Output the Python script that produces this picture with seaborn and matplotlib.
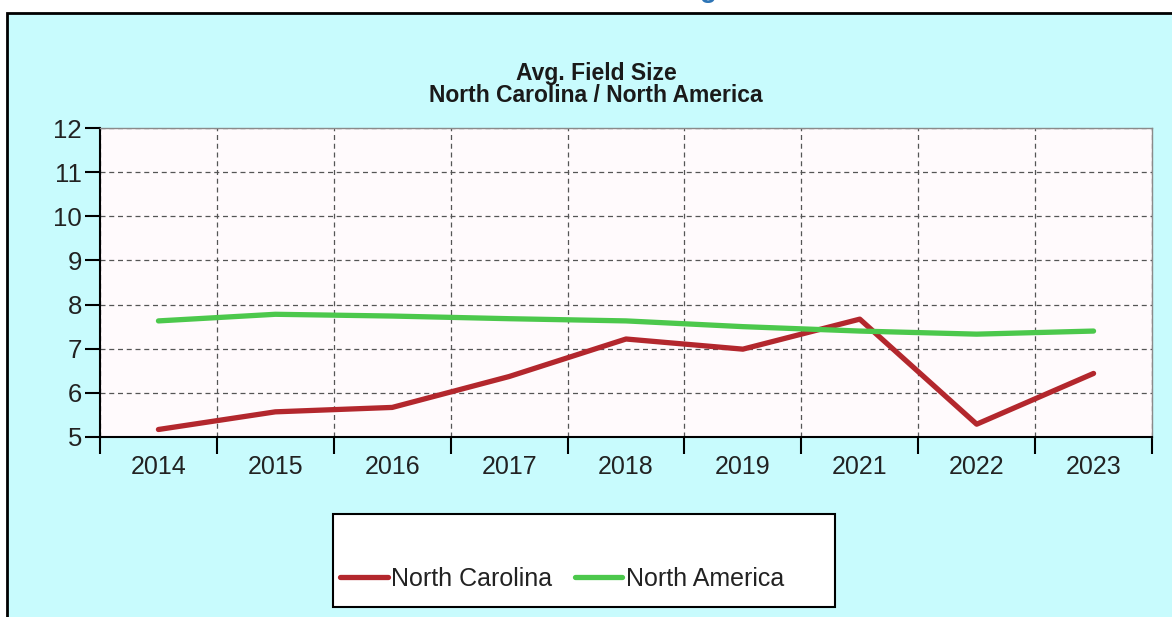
import matplotlib
matplotlib.use("Agg")
import matplotlib.pyplot as plt
import seaborn as sns
import pandas as pd
from matplotlib.patches import Rectangle
from matplotlib.lines import Line2D

years = ["2014", "2015", "2016", "2017", "2018", "2019", "2021", "2022", "2023"]
north_carolina = [5.17, 5.57, 5.67, 6.37, 7.22, 6.99, 7.67, 5.29, 6.44]
north_america = [7.63, 7.78, 7.74, 7.68, 7.63, 7.50, 7.40, 7.33, 7.40]
series_names = ["North Carolina", "North America"]
y_ticks = [5, 6, 7, 8, 9, 10, 11, 12]
title_lines = ["Avg. Field Size", "North Carolina / North America"]

sns.set_theme(style="white")
plt.rcParams["font.family"] = ["Liberation Sans", "DejaVu Sans"]

df = pd.DataFrame({
    "Year": years * 2,
    "Value": north_carolina + north_america,
    "Series": [series_names[0]] * len(years) + [series_names[1]] * len(years),
})

W, H = 1172, 617
fig = plt.figure(figsize=(W / 100, H / 100), dpi=100, facecolor="white")

# outer cyan panel
panel = Rectangle((7 / W, -0.05), 1.2, 1 - 13 / H + 0.05, transform=fig.transFigure,
                  facecolor="#C8FBFD", edgecolor="black", linewidth=2, zorder=-10)
fig.patches.append(panel)

# clipped heading glyph at very top
fig.text(708 / W, 1 + 3 / H, "g", color="#2E75B6", fontsize=20, fontweight="bold",
         ha="center", va="baseline")

ax = fig.add_axes([100 / W, (H - 437) / H, (1152 - 100) / W, (437 - 128) / H])
ax.set_facecolor("#FFFAFC")
ax.set_zorder(2)

palette = {series_names[0]: "#B3272D", series_names[1]: "#4CC84C"}
sns.lineplot(data=df, x="Year", y="Value", hue="Series", palette=palette,
             linewidth=3.8, ax=ax, legend=False, sort=False)

n = len(years)
ax.set_xlim(-0.5, n - 0.5)
ax.set_ylim(5, 12)
ax.set_yticks(y_ticks)
ax.set_yticklabels([str(v) for v in y_ticks])
ax.set_xticks(range(n))
ax.set_xticklabels(years)
ax.set_xticks([i - 0.5 for i in range(n + 1)], minor=True)
ax.tick_params(axis="x", which="major", length=0, pad=13, labelsize=18, labelcolor="#222222")
ax.tick_params(axis="x", which="minor", length=12, width=1.5, color="black", bottom=True)
ax.tick_params(axis="y", which="major", length=11, width=1.5, color="black", left=True,
               pad=2, labelsize=18.5, labelcolor="#222222")
ax.set_xlabel("")
ax.set_ylabel("")

ax.grid(False)
ax.grid(True, axis="y", which="major", linestyle=(0, (4, 3)), color="#555555", linewidth=0.9)
ax.grid(True, axis="x", which="minor", linestyle=(0, (4, 3)), color="#555555", linewidth=0.9)
ax.set_axisbelow(True)

for side in ["left", "bottom"]:
    ax.spines[side].set_color("black")
    ax.spines[side].set_linewidth(1.5)
for side in ["top", "right"]:
    ax.spines[side].set_color("#8A8A8A")
    ax.spines[side].set_linewidth(1.0)

# title
fig.text(596 / W, 1 - 80 / H, title_lines[0], ha="center", va="baseline",
         fontsize=16.5, fontweight="bold", color="#1a1a1a")
fig.text(596 / W, 1 - 102 / H, title_lines[1], ha="center", va="baseline",
         fontsize=16.5, fontweight="bold", color="#1a1a1a")

# legend box
lbox = Rectangle((333 / W, (H - 607) / H), (835 - 333) / W, (607 - 514) / H,
                 transform=fig.transFigure, facecolor="white", edgecolor="black",
                 linewidth=1.5, zorder=1)
fig.patches.append(lbox)

handles = [Line2D([], [], color=palette[s], linewidth=3.8) for s in series_names]
leg = fig.legend(handles, series_names, loc="center left",
                 bbox_to_anchor=(340 / W, (H - 579) / H), ncol=2, frameon=False,
                 fontsize=18, handlelength=1.9, handletextpad=0.15, columnspacing=0.9,
                 borderpad=0, borderaxespad=0)
leg.set_zorder(5)
for t in leg.get_texts():
    t.set_color("#222222")

fig.savefig("out.png", dpi=100, facecolor="white")
